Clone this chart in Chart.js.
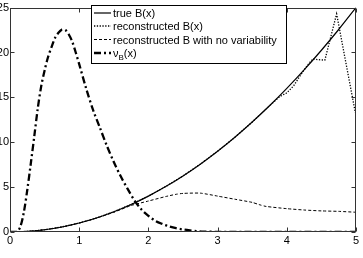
<!DOCTYPE html>
<html><head><meta charset="utf-8">
<script src="https://cdn.jsdelivr.net/npm/chart.js@4"></script>
<style>
html,body{margin:0;padding:0;overflow:hidden;background:#fff;width:363px;height:258px;}
#wrap{position:absolute;left:-20px;top:0;width:383px;height:258px;}
canvas{display:block;}
</style></head><body>
<div id="wrap"><canvas id="c" width="383" height="258"></canvas></div>
<script>
// ---- data ----
const xTicks = [0, 1, 2, 3, 4, 5];
const yTicks = [0, 5, 10, 15, 20, 25];

const seriesLabels = ['true B(x)', 'reconstructed B(x)', 'reconstructed B with no variability', 'ν_B(x)'];

const trueX = [0, 0.25, 0.5, 0.75, 1, 1.25, 1.5, 1.75, 2, 2.25, 2.5, 2.75, 3, 3.25, 3.5, 3.75, 4, 4.25, 4.5, 4.75, 5];
const trueY = [0, 0.06, 0.25, 0.56, 1.0, 1.56, 2.25, 3.06, 4.0, 5.06, 6.25, 7.56, 9.0, 10.56, 12.25, 14.06, 16.0, 18.06, 20.25, 22.56, 25.0];

const recX = [0, 0.25, 0.5, 0.75, 1, 1.25, 1.5, 1.75, 2, 2.25, 2.5, 2.75, 3, 3.25, 3.5, 3.75, 3.9, 4.0, 4.1, 4.2, 4.3, 4.38, 4.45, 4.55, 4.72, 4.99];
const recY = [0, 0.06, 0.25, 0.56, 1.0, 1.56, 2.25, 3.06, 4.0, 5.06, 6.25, 7.56, 9.0, 10.56, 12.25, 14.06, 15.1, 15.5, 16.3, 17.5, 18.6, 19.3, 19.2, 19.15, 24.3, 13.3];

const noVarX = [0, 0.25, 0.5, 0.75, 1, 1.25, 1.5, 1.75, 2, 2.25, 2.4, 2.5, 2.75, 3, 3.25, 3.5, 3.6, 3.7, 4, 4.25, 4.5, 4.75, 5];
const noVarY = [0, 0.06, 0.25, 0.56, 1.0, 1.55, 2.2, 2.95, 3.45, 3.95, 4.2, 4.3, 4.33, 4.0, 3.65, 3.3, 3.05, 2.85, 2.6, 2.45, 2.35, 2.3, 2.2];

const nuX = [0, 0.1, 0.15, 0.2, 0.25, 0.3, 0.35, 0.4, 0.45, 0.5, 0.55, 0.6, 0.65, 0.7, 0.75, 0.8, 0.85, 0.9, 0.95, 1.0, 1.1, 1.2, 1.3, 1.4, 1.5, 1.6, 1.7, 1.8, 1.9, 2.0, 2.1, 2.2, 2.3, 2.4, 2.5, 2.6, 2.7, 2.8, 3.0, 4.0, 5.0];
const nuY = [0, 0, 0.6, 2.2, 4.7, 7.6, 10.6, 13.7, 16.2, 18.0, 19.5, 20.6, 21.6, 22.2, 22.55, 22.5, 22.0, 21.2, 20.0, 18.7, 16.0, 13.6, 11.6, 9.6, 7.8, 6.2, 4.8, 3.5, 2.5, 1.8, 1.25, 0.9, 0.62, 0.42, 0.28, 0.18, 0.1, 0.05, 0.02, 0, 0];

// ---- build ----
const FONT = '"Liberation Sans", Arial, Helvetica, sans-serif';
const pts = (xs, ys) => xs.map((x, i) => ({x: x, y: ys[i]}));

const styles = [
  {borderWidth: 1.2, borderDash: [], tension: 0.3},
  {borderWidth: 1.3, borderDash: [1.3, 1.5], tension: 0},
  {borderWidth: 1, borderDash: [3, 2], tension: 0.2},
  {borderWidth: 2.3, borderDash: [7, 3, 2, 3], tension: 0.3}
];
const dataSets = [pts(trueX, trueY), pts(recX, recY), pts(noVarX, noVarY), pts(nuX, nuY)];

const datasets = dataSets.map((d, i) => ({
  label: seriesLabels[i],
  data: d,
  borderColor: '#000',
  backgroundColor: '#000',
  borderWidth: styles[i].borderWidth,
  borderDash: styles[i].borderDash,
  tension: styles[i].tension,
  pointRadius: 0,
  fill: false
}));

const framePlugin = {
  id: 'frame',
  afterDatasetsDraw(chart) {
    const {ctx, chartArea: a, scales} = chart;
    ctx.save();
    ctx.strokeStyle = '#333';
    ctx.lineWidth = 1;
    ctx.setLineDash([]);
    const L = Math.round(a.left) + 0.5, R = Math.round(a.right) - 0.5;
    const T = Math.round(a.top) + 0.5, B = Math.round(a.bottom) - 0.5;
    ctx.strokeRect(L, T, R - L, B - T);
    const tl = 4;
    ctx.beginPath();
    xTicks.forEach(v => {
      const px = Math.round(scales.x.getPixelForValue(v)) + 0.5;
      ctx.moveTo(px, B); ctx.lineTo(px, B - tl);
      ctx.moveTo(px, T); ctx.lineTo(px, T + tl);
    });
    yTicks.forEach(v => {
      const py = Math.round(scales.y.getPixelForValue(v)) + 0.5;
      ctx.moveTo(L, py); ctx.lineTo(L + tl, py);
      ctx.moveTo(R, py); ctx.lineTo(R - tl, py);
    });
    ctx.stroke();
    ctx.restore();
  }
};

const legendPlugin = {
  id: 'boxLegend',
  afterDraw(chart) {
    const {ctx} = chart;
    const off = 20; // canvas offset
    const bx = 91 + off, by = 5, bw = 195, bh = 58;
    ctx.save();
    ctx.fillStyle = '#fff';
    ctx.fillRect(bx, by, bw, bh);
    ctx.strokeStyle = '#000';
    ctx.lineWidth = 1;
    ctx.setLineDash([]);
    ctx.strokeRect(bx + 0.5, by + 0.5, bw, bh);
    const rows = [13, 26, 39.5, 53];
    chart.data.datasets.forEach((ds, i) => {
      const y = rows[i];
      ctx.beginPath();
      ctx.strokeStyle = '#000';
      ctx.lineWidth = ds.borderWidth;
      ctx.setLineDash(ds.borderDash);
      ctx.moveTo(bx + 3, y); ctx.lineTo(bx + 20, y);
      ctx.stroke();
      ctx.setLineDash([]);
      ctx.fillStyle = '#000';
      ctx.textBaseline = 'alphabetic';
      ctx.textAlign = 'left';
      const tx = bx + 22;
      const base = y + 4;
      const lab = ds.label;
      const k = lab.indexOf('_');
      if (k >= 0) {
        const a1 = lab.slice(0, k), sub = lab.charAt(k + 1), rest = lab.slice(k + 2);
        ctx.font = '11px ' + FONT;
        ctx.fillText(a1, tx, base);
        let w = ctx.measureText(a1).width;
        ctx.font = '8px ' + FONT;
        ctx.fillText(sub, tx + w, base + 3);
        w += ctx.measureText(sub).width;
        ctx.font = '11px ' + FONT;
        ctx.fillText(rest, tx + w, base);
      } else {
        ctx.font = '11px ' + FONT;
        ctx.fillText(lab, tx, base);
      }
    });
    ctx.restore();
  }
};

new Chart(document.getElementById('c'), {
  type: 'line',
  data: {datasets: datasets},
  options: {
    responsive: false,
    animation: false,
    devicePixelRatio: 1,
    layout: {padding: {top: 5, right: 7, left: 0, bottom: 0}},
    plugins: {legend: {display: false}, tooltip: {enabled: false}},
    scales: {
      x: {
        type: 'linear', min: 0, max: 5,
        afterBuildTicks: s => { s.ticks = xTicks.map(v => ({value: v})); },
        ticks: {color: '#000', font: {size: 11, family: FONT}, padding: 2, maxRotation: 0},
        grid: {display: false, drawTicks: false},
        border: {display: false},
        afterFit: s => { s.height = 26; }
      },
      y: {
        type: 'linear', min: 0, max: 25,
        afterBuildTicks: s => { s.ticks = yTicks.map(v => ({value: v})); },
        ticks: {color: '#000', font: {size: 11, family: FONT}, padding: 1},
        grid: {display: false, drawTicks: false},
        border: {display: false},
        afterFit: s => { s.width = 30; }
      }
    }
  },
  plugins: [framePlugin, legendPlugin]
});
</script>
</body></html>
